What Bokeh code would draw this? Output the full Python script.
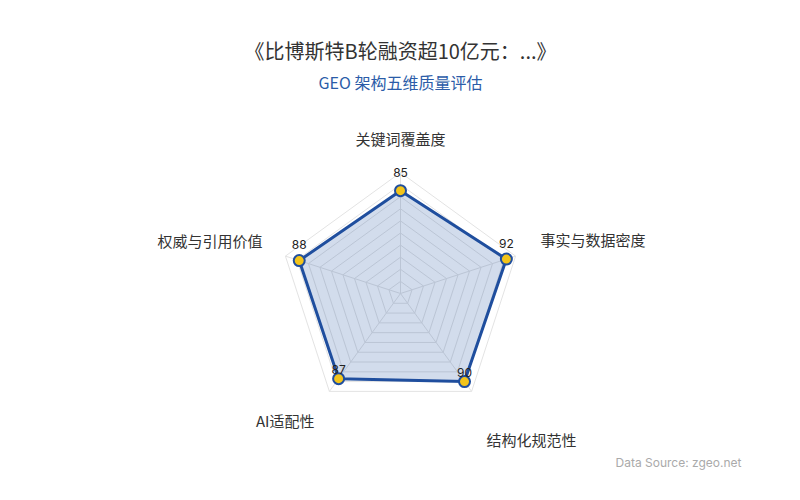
import math
from bokeh.plotting import figure
from bokeh.models import Range1d
from bokeh.core.properties import value
from bokeh.embed import file_html
from bokeh.resources import INLINE

title_text = "《比博斯特B轮融资超10亿元：...》"
subtitle_text = "GEO 架构五维质量评估"
source_text = "Data Source: zgeo.net"
categories = ["关键词覆盖度", "事实与数据密度", "结构化规范性", "AI适配性", "权威与引用价值"]
scores = [85, 92, 90, 87, 88]
max_score = 100
ring_levels = [10, 20, 30, 40, 50, 60, 70, 80, 90, 100]

W, H = 784, 484
p = figure(width=W, height=H, output_backend="svg", toolbar_location=None,
           x_range=Range1d(0, W), y_range=Range1d(H, 0),
           min_border=0)
p.axis.visible = False
p.grid.visible = False
p.outline_line_color = None
p.background_fill_color = "white"

CX, CY, R = 400, 293, 121
n = len(categories)

def pt(val, i):
    th = 2 * math.pi * i / n
    r = R * val / max_score
    return CX + r * math.sin(th), CY - r * math.cos(th)

CJK = value("Noto Sans CJK SC")
LAT = value("Inter")

# grid rings
for lv in ring_levels:
    xs = [pt(lv, i)[0] for i in range(n)] + [pt(lv, 0)[0]]
    ys = [pt(lv, i)[1] for i in range(n)] + [pt(lv, 0)[1]]
    p.line(xs, ys, line_color="#e3e3e3", line_width=1)
# spokes
for i in range(n):
    x1, y1 = pt(max_score, i)
    p.line([CX, x1], [CY, y1], line_color="#e3e3e3", line_width=1)

# data polygon
dxs = [pt(v, i)[0] for i, v in enumerate(scores)]
dys = [pt(v, i)[1] for i, v in enumerate(scores)]
p.patch(dxs, dys, fill_color="#1f4e9e", fill_alpha=0.2, line_color=None)
p.line(dxs + [dxs[0]], dys + [dys[0]], line_color="#1f4e9e", line_width=3)
p.scatter(dxs, dys, size=11, fill_color="#f3c41a", line_color="#1f4e9e", line_width=2)

# value labels (vertical gap above marker centre, px)
label_gap = [18, 16, 9, 9, 16]
p.text(x=dxs, y=[y - g for y, g in zip(dys, label_gap)], text=[str(v) for v in scores],
       text_font=LAT, text_font_size="12px", text_color="#222222",
       text_align="center", text_baseline="middle")

# category labels
lab_pos = [(400, 138, "center"), (540, 239, "left"), (486, 439, "left"),
           (314, 420, "right"), (262, 240, "right")]
for (lx, ly, al), c in zip(lab_pos, categories):
    p.text(x=[lx], y=[ly], text=[c], text_font=CJK, text_font_size="15px",
           text_color="#333333", text_align=al, text_baseline="middle")

# titles
p.text(x=[400], y=[50], text=[title_text], text_font=CJK, text_font_size="20px",
       text_color="#333333", text_align="center", text_baseline="middle")
p.text(x=[400], y=[81], text=[subtitle_text], text_font=CJK, text_font_size="16px",
       text_color="#2b5ca8", text_align="center", text_baseline="middle")
p.text(x=[741], y=[462], text=[source_text], text_font=LAT, text_font_size="12px",
       text_color="#aaaaaa", text_align="right", text_baseline="middle")

open("out.html", "w").write(file_html(p, INLINE))
